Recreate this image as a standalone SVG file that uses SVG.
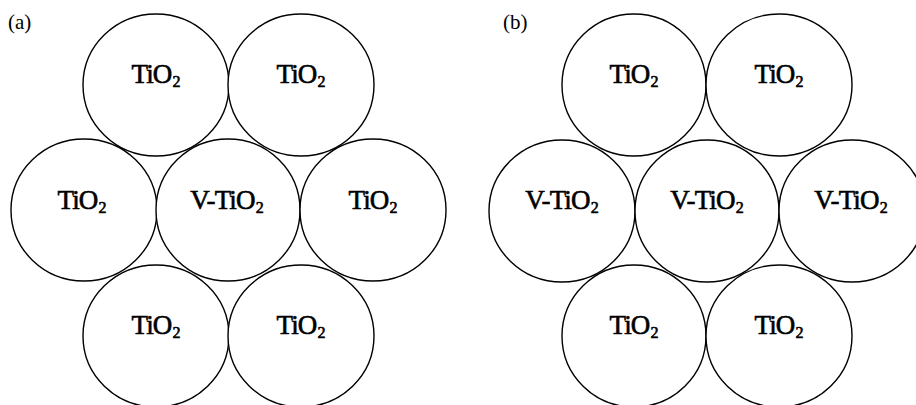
<svg xmlns="http://www.w3.org/2000/svg" width="916" height="405" viewBox="0 0 916 405">
<style>
.c{fill:#fff;stroke:#000;stroke-width:1.4}
.t{font-family:"Liberation Serif","Times New Roman",serif;font-size:27px;letter-spacing:-0.8px;text-anchor:middle;fill:#000;stroke:#000;stroke-width:0.6}
.s{font-size:16px;letter-spacing:0}
.lab{font-family:"Liberation Serif","Times New Roman",serif;font-size:21px;fill:#000}
</style>
<rect width="916" height="405" fill="#fff"/>
<text class="lab" x="8" y="29">(a)</text>
<text class="lab" x="503" y="29">(b)</text>
<g id="panel-a">
<g id="a1"><ellipse class="c" cx="156" cy="85" rx="73" ry="71"/><text class="t" x="156" y="83">TiO<tspan class="s" dx="1" dy="4">2</tspan></text></g>
<g id="a2"><ellipse class="c" cx="301" cy="85" rx="73" ry="71"/><text class="t" x="301" y="83">TiO<tspan class="s" dx="1" dy="4">2</tspan></text></g>
<g id="a3"><ellipse class="c" cx="84" cy="210" rx="73" ry="71"/><text class="t" x="82" y="209">TiO<tspan class="s" dx="1" dy="4">2</tspan></text></g>
<g id="a4"><ellipse class="c" cx="228" cy="210" rx="72" ry="71"/><text class="t" x="227" y="209">V-TiO<tspan class="s" dx="1" dy="4">2</tspan></text></g>
<g id="a5"><ellipse class="c" cx="373" cy="210" rx="73" ry="71"/><text class="t" x="373" y="209">TiO<tspan class="s" dx="1" dy="4">2</tspan></text></g>
<g id="a6"><ellipse class="c" cx="156" cy="336" rx="73" ry="71"/><text class="t" x="156" y="334">TiO<tspan class="s" dx="1" dy="4">2</tspan></text></g>
<g id="a7"><ellipse class="c" cx="301" cy="336" rx="73" ry="71"/><text class="t" x="301" y="334">TiO<tspan class="s" dx="1" dy="4">2</tspan></text></g>
</g>
<g id="panel-b">
<g id="b1"><ellipse class="c" cx="634" cy="85" rx="72" ry="71"/><text class="t" x="634" y="83">TiO<tspan class="s" dx="1" dy="4">2</tspan></text></g>
<g id="b2"><ellipse class="c" cx="779" cy="85" rx="73" ry="71"/><text class="t" x="779" y="83">TiO<tspan class="s" dx="1" dy="4">2</tspan></text></g>
<g id="b3"><ellipse class="c" cx="562" cy="211" rx="73" ry="71"/><text class="t" x="562" y="209">V-TiO<tspan class="s" dx="1" dy="4">2</tspan></text></g>
<g id="b4"><ellipse class="c" cx="707" cy="211" rx="72" ry="71"/><text class="t" x="707" y="209">V-TiO<tspan class="s" dx="1" dy="4">2</tspan></text></g>
<g id="b5"><ellipse class="c" cx="852" cy="211" rx="73" ry="71"/><text class="t" x="851" y="209">V-TiO<tspan class="s" dx="1" dy="4">2</tspan></text></g>
<g id="b6"><ellipse class="c" cx="634" cy="336" rx="72" ry="71"/><text class="t" x="634" y="334">TiO<tspan class="s" dx="1" dy="4">2</tspan></text></g>
<g id="b7"><ellipse class="c" cx="779" cy="336" rx="73" ry="71"/><text class="t" x="779" y="334">TiO<tspan class="s" dx="1" dy="4">2</tspan></text></g>
</g>
<g id="connectors"/>
</svg>
